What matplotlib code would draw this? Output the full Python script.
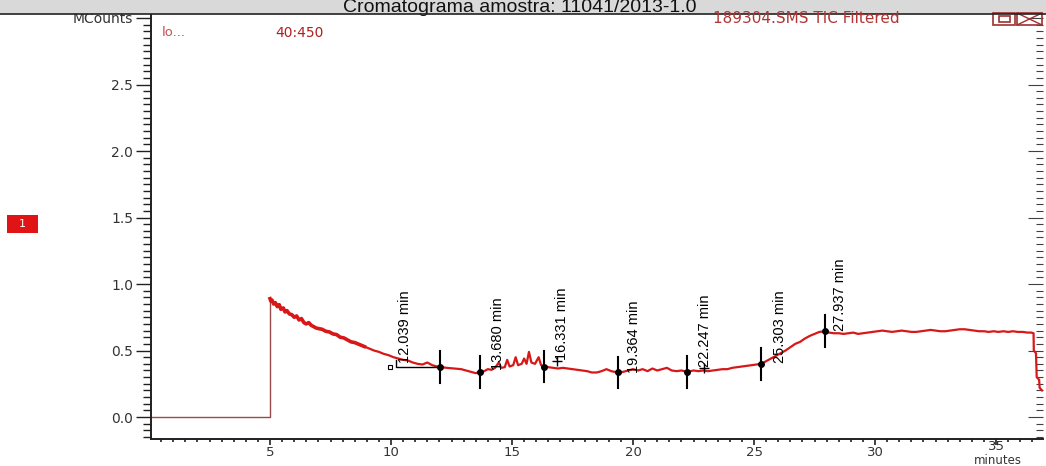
import matplotlib.pyplot as plt
from matplotlib.ticker import MultipleLocator, FuncFormatter
from matplotlib.patches import Rectangle
from matplotlib.lines import Line2D

# flat baseline before the solvent delay ends (minutes, MCounts)
base_time = [0.1, 5.0, 5.0]
base_counts = [0.0, 0.0, 0.89]

# TIC trace
tic_time = [5.00, 5.04, 5.08, 5.15, 5.22, 5.30, 5.38, 5.45, 5.55, 5.62, 5.70,
            5.80, 5.90, 6.00, 6.10, 6.20, 6.30, 6.40, 6.50, 6.60, 6.70, 6.80,
            6.90, 7.00, 7.15, 7.30, 7.45, 7.60, 7.75, 7.90, 8.05, 8.20, 8.35,
            8.50, 8.70, 8.90, 9.10, 9.30, 9.50, 9.70, 9.90, 10.10, 10.30,
            10.50, 10.70, 10.90, 11.10, 11.30, 11.50, 11.70, 11.90, 12.04,
            12.30, 12.60, 12.90, 13.20, 13.50, 13.68, 13.85, 14.00, 14.15,
            14.30, 14.45, 14.55, 14.70, 14.80, 14.90, 15.05, 15.15, 15.25,
            15.40, 15.50, 15.60, 15.70, 15.80, 15.95, 16.10, 16.20, 16.33,
            16.50, 16.70, 16.90, 17.10, 17.30, 17.50, 17.70, 17.90, 18.10,
            18.30, 18.50, 18.70, 18.90, 19.10, 19.36, 19.60, 19.80, 20.00,
            20.20, 20.40, 20.60, 20.80, 21.00, 21.20, 21.40, 21.60, 21.80,
            22.00, 22.25, 22.50, 22.70, 22.90, 23.10, 23.30, 23.50, 23.70,
            23.90, 24.10, 24.30, 24.50, 24.70, 24.90, 25.10, 25.30, 25.50,
            25.70, 25.90, 26.10, 26.30, 26.50, 26.70, 26.90, 27.10, 27.30,
            27.50, 27.70, 27.94, 28.10, 28.30, 28.50, 28.70, 28.90, 29.10,
            29.30, 29.50, 29.70, 29.90, 30.10, 30.30, 30.50, 30.70, 30.90,
            31.10, 31.30, 31.50, 31.70, 31.90, 32.10, 32.30, 32.50, 32.70,
            32.90, 33.10, 33.30, 33.50, 33.70, 33.90, 34.10, 34.30, 34.50,
            34.70, 34.90, 35.10, 35.30, 35.50, 35.70, 35.90, 36.10, 36.30,
            36.45, 36.55, 36.56, 36.65, 36.68, 36.78, 36.80, 36.90]
tic_counts = [0.89, 0.87, 0.88, 0.85, 0.86, 0.83, 0.845, 0.81, 0.82, 0.79, 0.80,
              0.775, 0.77, 0.75, 0.76, 0.73, 0.74, 0.71, 0.70, 0.71, 0.69, 0.68,
              0.67, 0.665, 0.66, 0.645, 0.64, 0.625, 0.62, 0.60, 0.595, 0.58, 0.565,
              0.56, 0.545, 0.53, 0.515, 0.50, 0.49, 0.475, 0.465, 0.45, 0.44,
              0.43, 0.425, 0.41, 0.40, 0.395, 0.41, 0.39, 0.38, 0.376,
              0.37, 0.365, 0.36, 0.345, 0.33, 0.34, 0.345, 0.36, 0.355,
              0.37, 0.41, 0.37, 0.375, 0.43, 0.38, 0.39, 0.45, 0.39,
              0.40, 0.44, 0.40, 0.49, 0.41, 0.40, 0.45, 0.39, 0.38,
              0.375, 0.37, 0.365, 0.37, 0.365, 0.36, 0.355, 0.35, 0.345,
              0.335, 0.335, 0.345, 0.36, 0.345, 0.335, 0.34, 0.35, 0.36,
              0.35, 0.36, 0.345, 0.365, 0.35, 0.36, 0.37, 0.35, 0.345,
              0.35, 0.34, 0.35, 0.345, 0.35, 0.345, 0.35, 0.355, 0.36,
              0.36, 0.37, 0.375, 0.38, 0.385, 0.39, 0.395, 0.40, 0.42,
              0.44, 0.46, 0.48, 0.50, 0.525, 0.55, 0.565, 0.59, 0.61,
              0.625, 0.64, 0.645, 0.635, 0.63, 0.63, 0.625, 0.63, 0.635,
              0.625, 0.63, 0.635, 0.64, 0.645, 0.65, 0.645, 0.64, 0.645,
              0.65, 0.645, 0.64, 0.64, 0.645, 0.65, 0.655, 0.65, 0.645,
              0.645, 0.65, 0.655, 0.66, 0.66, 0.655, 0.65, 0.645, 0.645,
              0.64, 0.645, 0.64, 0.645, 0.64, 0.645, 0.64, 0.64, 0.635,
              0.635, 0.63, 0.50, 0.48, 0.30, 0.28, 0.22, 0.20]

# integrated peaks
peak_times = [12.039, 13.680, 16.331, 19.364, 22.247, 25.303, 27.937]
peak_counts = [0.376, 0.340, 0.380, 0.335, 0.340, 0.400, 0.645]
label_x = [10.30, 14.15, 16.78, 19.75, 22.70, 25.78, 28.25]
label_y = [0.41, 0.35, 0.43, 0.33, 0.38, 0.405, 0.65]
plus_x = [16.85, 22.95]
plus_y = [0.42, 0.37]
leader_time = [10.2, 10.2, 12.039]
leader_counts = [0.43, 0.376, 0.376]

W, H = 1046, 466
fig = plt.figure(figsize=(W / 100, H / 100), dpi=100)
ax = fig.add_axes([150.7 / W, 1 - 439 / H, (1043 - 150.7) / W, (439 - 14) / H])

ax.plot(base_time, base_counts, color='#9a4a4a', lw=1.0, zorder=2)
ax.plot(tic_time, tic_counts, color='#d81818', lw=1.6, zorder=3)
# the noisy start of the run looks heavier on screen
early = [i for i, t in enumerate(tic_time) if t <= 9.0]
ax.plot([tic_time[i] for i in early], [tic_counts[i] for i in early],
        color='#d81818', lw=2.6, zorder=3)

for t, c in zip(peak_times, peak_counts):
    ax.plot([t, t], [c - 0.12, c + 0.12], color='black', lw=1.5, zorder=4)
ax.plot(peak_times, peak_counts, 'o', color='black', ms=4, zorder=5)
for t, lx, ly in zip(peak_times, label_x, label_y):
    ax.text(lx, ly, f'{t:.3f} min', rotation=90, ha='left', va='bottom',
            family='Liberation Sans', fontsize=10.5, color='black', zorder=6)
ax.plot(plus_x, plus_y, '+', color='black', ms=7, mew=1.0, zorder=6)
ax.plot(leader_time, leader_counts, color='black', lw=1.0, zorder=4)
ax.plot([9.97], [0.376], 's', mfc='white', mec='black', ms=3, mew=0.8, zorder=5)

ax.set_xlim(0.07, 36.94)
ax.set_ylim(-0.165, 3.03)
ax.xaxis.set_major_locator(MultipleLocator(5))
ax.xaxis.set_minor_locator(MultipleLocator(0.5))
ax.yaxis.set_major_locator(MultipleLocator(0.5))
ax.yaxis.set_minor_locator(MultipleLocator(0.05))
# 35 is lifted above the "minutes" caption, drawn separately below
ax.xaxis.set_major_formatter(FuncFormatter(
    lambda v, p: f'{v:.0f}' if 0.5 < v < 34 else ''))
ax.yaxis.set_major_formatter(FuncFormatter(lambda v, p: 'MCounts' if v > 2.9 else f'{v:.1f}'))
ax.annotate('35', xy=(35, 0), xycoords=('data', 'axes fraction'), xytext=(0, -7.9),
            textcoords='offset points', ha='center', va='baseline', fontsize=9.5,
            color='#333333')

for s in ['top', 'right']:
    ax.spines[s].set_visible(False)
for s in ['left', 'bottom']:
    ax.spines[s].set_linewidth(1.4)
    ax.spines[s].set_color('#202020')

ax.tick_params(axis='y', which='major', length=11, width=1.0, pad=1.5,
               labelsize=10, labelcolor='#333333', color='#202020')
ax.tick_params(axis='y', which='minor', length=6, width=1.0, color='#202020')
ax.tick_params(axis='x', which='major', length=4.5, width=1.2, pad=0.5,
               labelsize=9.5, labelcolor='#333333', color='#202020')
ax.tick_params(axis='x', which='minor', length=2.2, width=1.2, color='#202020')

sec = ax.secondary_yaxis('right')
sec.spines['right'].set_visible(False)
sec.yaxis.set_major_locator(MultipleLocator(0.5))
sec.yaxis.set_minor_locator(MultipleLocator(0.05))
sec.tick_params(which='major', direction='in', length=11, width=0.8,
                color='#404040', labelright=False)
sec.tick_params(which='minor', direction='in', length=5, width=0.8, color='#404040')

# title bar
fig.patches.append(Rectangle((0, 1 - 13.5 / H), 1, 13.5 / H, transform=fig.transFigure,
                             facecolor='#d9d9d9', edgecolor='none', zorder=0))
fig.text(520 / W, 1 - 12 / H, 'Cromatograma amostra: 11041/2013-1.0',
         ha='center', va='baseline', family='Liberation Sans', fontsize=14,
         color='#111111', zorder=1)
fig.add_artist(Line2D([0, 1], [1 - 13.8 / H] * 2, transform=fig.transFigure,
                      color='#222222', lw=1.2, zorder=3))

# header texts
fig.text(162 / W, 1 - 33 / H, 'lo...', ha='left', va='center', fontsize=9.5, color='#c65050')
fig.text(300 / W, 1 - 33 / H, '40:450', ha='center', va='center', fontsize=10, color='#b02020')
fig.text(806 / W, 1 - 18.5 / H, '189304.SMS TIC Filtered', ha='center', va='center',
         fontsize=11, color='#b03535')

# window buttons
fig.patches.append(Rectangle((993 / W, 1 - 25 / H), 22 / W, 12 / H, transform=fig.transFigure,
                             facecolor='none', edgecolor='#a03030', lw=1.2))
fig.patches.append(Rectangle((999 / W, 1 - 22 / H), 11 / W, 6 / H, transform=fig.transFigure,
                             facecolor='none', edgecolor='#a03030', lw=1.2))
fig.patches.append(Rectangle((1017 / W, 1 - 25 / H), 25 / W, 12 / H, transform=fig.transFigure,
                             facecolor='none', edgecolor='#a03030', lw=1.2))
fig.add_artist(Line2D([1017 / W, 1042 / W], [1 - 25 / H, 1 - 13 / H], transform=fig.transFigure,
                      color='#a03030', lw=1.0))
fig.add_artist(Line2D([1017 / W, 1042 / W], [1 - 13 / H, 1 - 25 / H], transform=fig.transFigure,
                      color='#a03030', lw=1.0))

# trace number badge
fig.patches.append(Rectangle((7 / W, 1 - 233 / H), 31 / W, 18 / H, transform=fig.transFigure,
                             facecolor='#e01414', edgecolor='none'))
fig.text(22.5 / W, 1 - 224 / H, '1', ha='center', va='center', fontsize=8, color='white')

fig.text(998 / W, 2.5 / H, 'minutes', ha='center', va='baseline', fontsize=8.5, color='#333333')

plt.savefig('out.png', dpi=100)
plt.close()
